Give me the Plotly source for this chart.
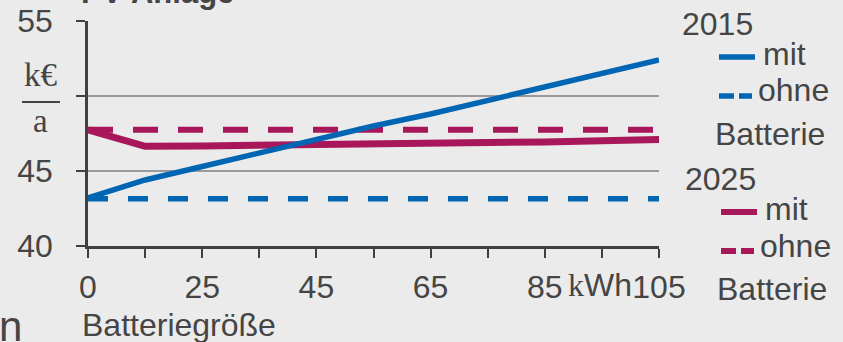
import plotly.graph_objects as go

# ---------------- data ----------------
tick_labels = ["0", "", "25", "", "45", "", "65", "", "85", "", "105"]
positions = list(range(len(tick_labels)))

mit_2015 = [43.2, 44.4, 45.3, 46.2, 47.1, 48.0, 48.8, 49.7, 50.6, 51.5, 52.4]
ohne_2015 = [43.15, 43.15, 43.15, 43.15, 43.15, 43.15, 43.15, 43.15, 43.15, 43.15, 43.15]
mit_2025 = [47.75, 46.65, 46.67, 46.7, 46.74, 46.78, 46.83, 46.88, 46.94, 47.01, 47.1]
ohne_2025 = [47.75, 47.75, 47.75, 47.75, 47.75, 47.75, 47.75, 47.75, 47.75, 47.75, 47.75]

y_ticks = [40, 45, 50, 55]
y_tick_text = ["40", "45", "", "55"]

BLUE = "#0066b3"
MAGENTA = "#a8175a"
TEXT = "#454545"
AXIS = "#404040"
GRID = "#9a9a9a"
BG = "#ebebeb"
SANS = "Liberation Sans, Arial, sans-serif"
SERIF = "Liberation Serif, Times New Roman, serif"

W, H = 843, 342
L, R, T, B = 88, 184, 21, 96
PW, PH = W - L - R, H - T - B


def px(x):
    return (x - L) / PW


def py(y):
    return (H - B - y) / PH


fig = go.Figure()
fig.add_trace(go.Scatter(x=positions, y=ohne_2015, mode="lines",
                         line=dict(color=BLUE, width=5.5, dash="20px,20px")))
fig.add_trace(go.Scatter(x=positions, y=ohne_2025, mode="lines",
                         line=dict(color=MAGENTA, width=6, dash="25px,20px")))
fig.add_trace(go.Scatter(x=positions, y=mit_2025, mode="lines",
                         line=dict(color=MAGENTA, width=7)))
fig.add_trace(go.Scatter(x=positions, y=mit_2015, mode="lines",
                         line=dict(color=BLUE, width=5.5)))

FS = 32
ann = []


def text(t, x, baseline, size=FS, anchor="left", family=SANS, bold=False):
    if bold:
        t = "<b>" + t + "</b>"
    ann.append(dict(text=t, x=px(x), y=py(baseline - 0.35 * size), xref="paper", yref="paper",
                    xanchor=anchor, yanchor="middle", showarrow=False,
                    font=dict(size=size, color=TEXT, family=family)))


# legend texts
text("2015", 680, 35)
text("mit", 761, 65)
text("ohne", 756, 101)
text("Batterie", 713, 145)
text("2025", 683, 190)
text("mit", 763, 220)
text("ohne", 758, 257)
text("Batterie", 715, 300)

# axis title, unit, fragments
text("Batteriegröße", 80, 336)
ann.append(dict(text="<span style='font-family:Liberation Serif'>k</span>Wh", x=px(566), y=py(296 - 0.35 * FS),
                xref="paper", yref="paper", xanchor="left", yanchor="middle", showarrow=False,
                font=dict(size=FS, color=TEXT, family=SANS)))
text("k€", 40, 87, size=33, anchor="center", family=SERIF)
text("a", 40, 133, size=33, anchor="center", family=SERIF)
text("PV-Anlage", 79, 3, size=31, bold=True)
text("n", -3, 341, size=42)

shapes = []


def seg(x0, x1, y, color, width):
    shapes.append(dict(type="line", xref="paper", yref="paper", x0=px(x0), x1=px(x1),
                       y0=py(y), y1=py(y), line=dict(color=color, width=width)))


seg(719, 755, 57, BLUE, 5.5)
seg(719, 734, 96, BLUE, 5.5)
seg(739, 752, 96, BLUE, 5.5)
seg(721, 757, 212, MAGENTA, 6)
seg(721, 736, 251, MAGENTA, 6)
seg(741, 754, 251, MAGENTA, 6)
seg(22, 60, 102, TEXT, 2)

fig.update_layout(
    width=W, height=H,
    margin=dict(l=L, r=R, t=T, b=B, autoexpand=False),
    paper_bgcolor=BG, plot_bgcolor=BG,
    showlegend=False,
    font=dict(family=SANS, size=FS, color=TEXT),
    annotations=ann, shapes=shapes,
)
fig.update_xaxes(range=[0, 10], tickvals=positions, ticktext=tick_labels, automargin=False,
                 showgrid=False, zeroline=False, showline=True, linecolor=AXIS, linewidth=2.5,
                 ticks="outside", ticklen=9, tickwidth=2, tickcolor=AXIS,
                 tickfont=dict(size=FS, color=TEXT), ticklabelstandoff=2)
fig.update_yaxes(range=[40, 55], tickvals=y_ticks, ticktext=y_tick_text, automargin=False,
                 showgrid=True, gridcolor=GRID, gridwidth=2, zeroline=False,
                 showline=True, linecolor=AXIS, linewidth=2.5,
                 ticks="outside", ticklen=9, tickwidth=2, tickcolor=AXIS,
                 tickfont=dict(size=FS, color=TEXT), ticklabelstandoff=17)

fig.write_html("out.html", config={"displayModeBar": False},
               post_script="document.body.style.margin='0';")
